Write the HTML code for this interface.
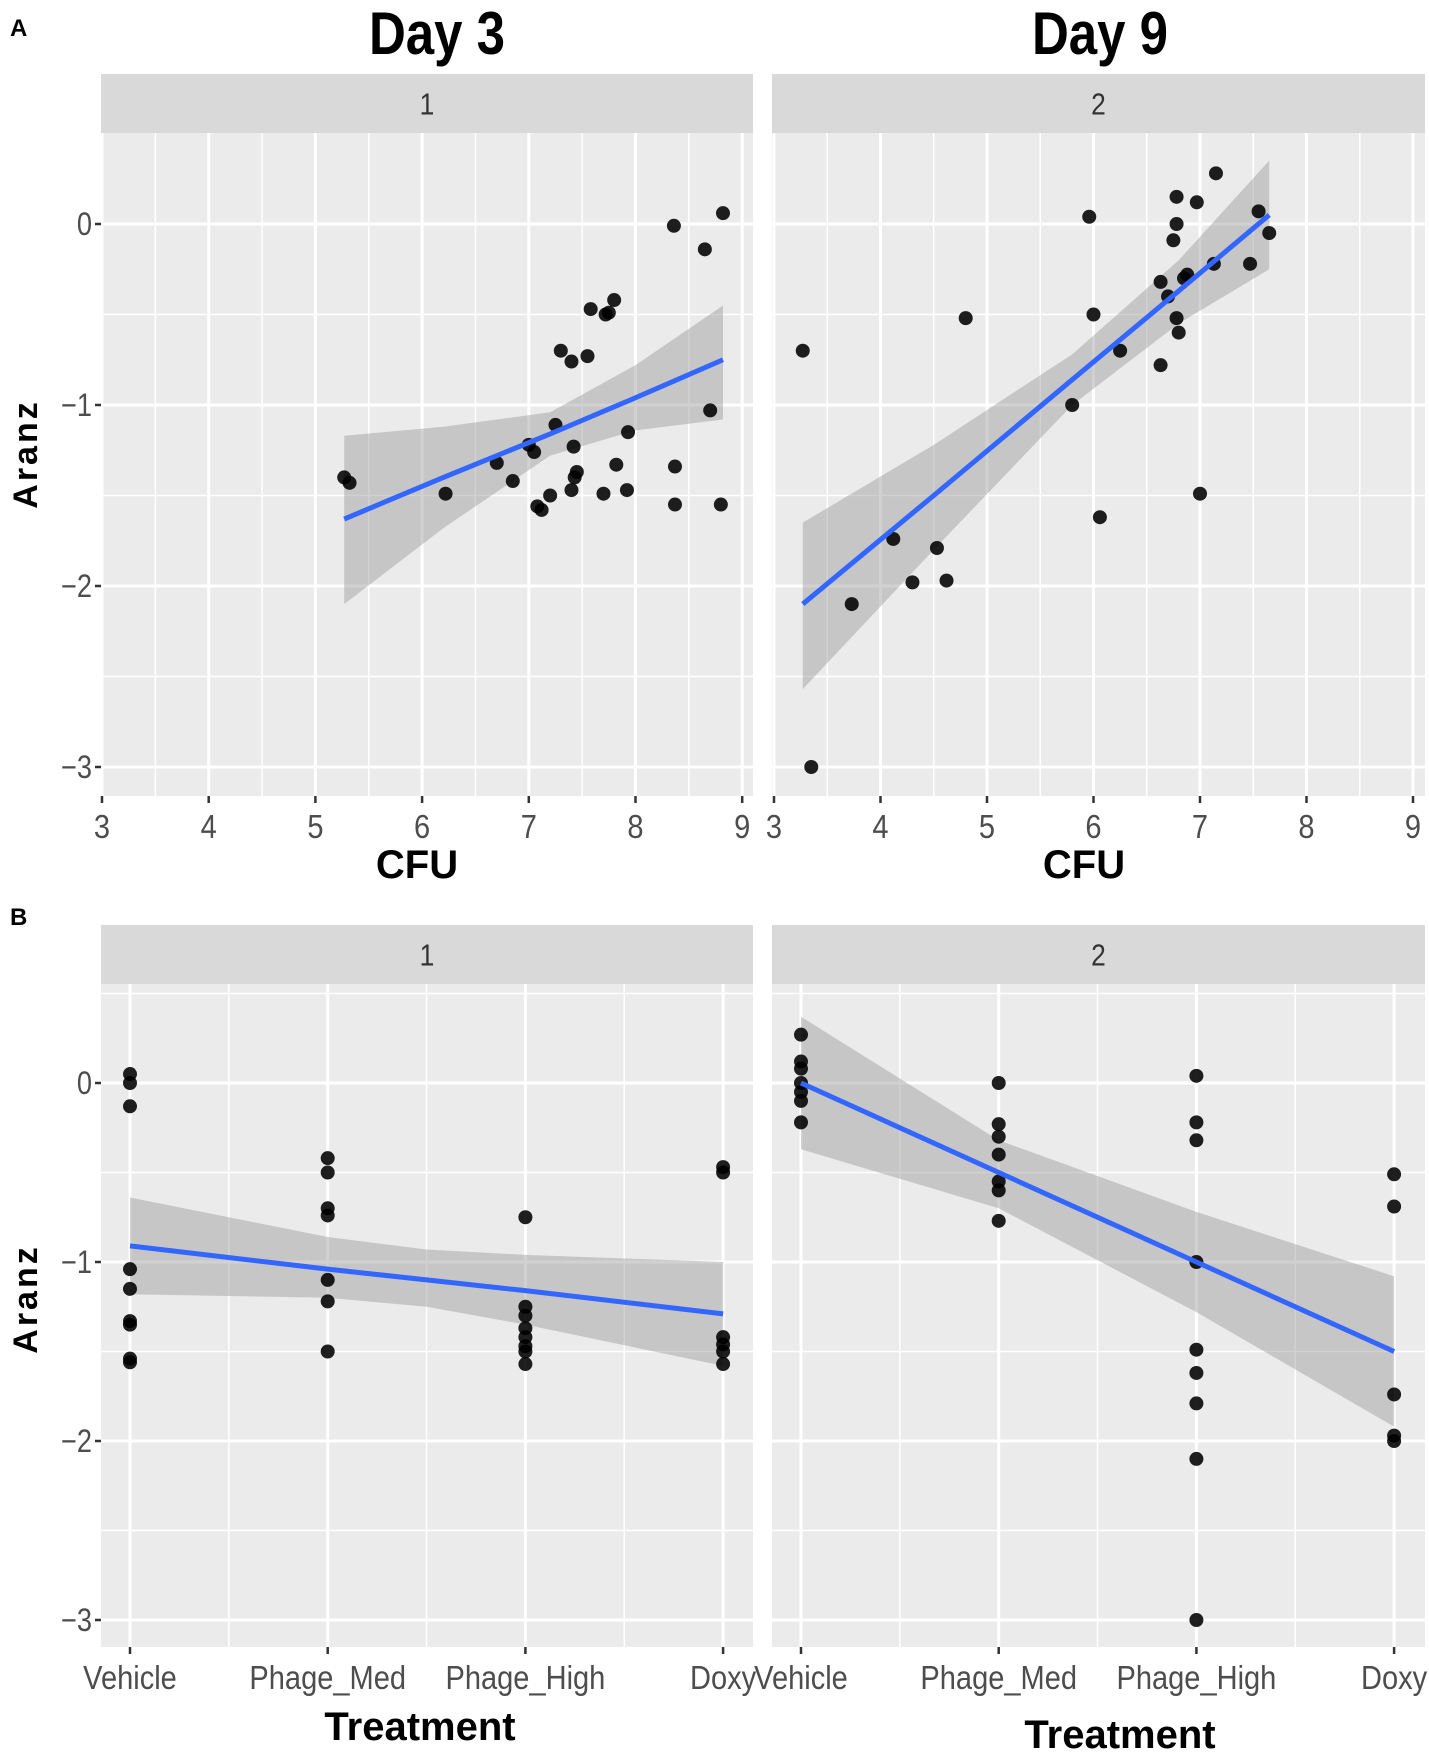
<!DOCTYPE html>
<html><head><meta charset="utf-8"><style>
html,body{margin:0;padding:0;background:#fff;}
svg{display:block;}
</style></head><body>
<svg id="fig" width="1429" height="1762" viewBox="0 0 1429 1762" xmlns="http://www.w3.org/2000/svg" font-family="'Liberation Sans', sans-serif"></svg>
<script>
// ---- Data ----
const day3X = [5.27,5.32,6.22,6.7,6.85,7.0,7.05,7.08,7.12,7.2,7.25,7.3,7.4,7.4,7.42,7.43,7.45,7.55,7.58,7.7,7.72,7.75,7.8,7.82,7.92,7.93,8.36,8.37,8.37,8.65,8.7,8.8,8.82];
const day3Y = [-1.4,-1.43,-1.49,-1.32,-1.42,-1.22,-1.26,-1.56,-1.58,-1.5,-1.11,-0.7,-1.47,-0.76,-1.23,-1.4,-1.37,-0.73,-0.47,-1.49,-0.5,-0.49,-0.42,-1.33,-1.47,-1.15,-0.01,-1.34,-1.55,-0.14,-1.03,-1.55,0.06];
const day9X = [3.27,3.35,3.73,4.12,4.3,4.53,4.62,4.8,5.8,5.96,6.0,6.06,6.25,6.63,6.63,6.7,6.75,6.78,6.78,6.78,6.8,6.85,6.88,6.97,7.0,7.13,7.15,7.47,7.55,7.65];
const day9Y = [-0.7,-3.0,-2.1,-1.74,-1.98,-1.79,-1.97,-0.52,-1.0,0.04,-0.5,-1.62,-0.7,-0.32,-0.78,-0.4,-0.09,0.0,0.15,-0.52,-0.6,-0.3,-0.28,0.12,-1.49,-0.22,0.28,-0.22,0.07,-0.05];
const day3FitX = [5.27,6.2,7.2,8.0,8.82];
const day3Fit = [-1.63,-1.40,-1.16,-0.96,-0.75];
const day3Up = [-1.17,-1.12,-1.04,-0.78,-0.45];
const day3Lo = [-2.10,-1.68,-1.28,-1.14,-1.08];
const day9FitX = [3.27,4.5,5.8,6.8,7.65];
const day9Fit = [-2.1,-1.5,-0.86,-0.37,0.05];
const day9Up = [-1.65,-1.22,-0.72,-0.2,0.35];
const day9Lo = [-2.57,-1.8,-1.0,-0.55,-0.25];

const treatments = ['Vehicle','Phage_Med','Phage_High','Doxy'];
const d1Cat = [0,0,0,0,0,0,0,0,0, 1,1,1,1,1,1,1, 2,2,2,2,2,2,2,2, 3,3,3,3,3,3];
const d1Val = [0.05,0.0,-0.13,-1.04,-1.15,-1.33,-1.35,-1.54,-1.56, -0.42,-0.5,-0.7,-0.74,-1.1,-1.22,-1.5, -0.75,-1.25,-1.3,-1.37,-1.42,-1.47,-1.5,-1.57, -0.47,-0.5,-1.42,-1.46,-1.5,-1.57];
const d2Cat = [0,0,0,0,0,0,0, 1,1,1,1,1,1,1, 2,2,2,2,2,2,2,2,2, 3,3,3,3,3];
const d2Val = [0.27,0.12,0.08,0.0,-0.05,-0.1,-0.22, 0.0,-0.23,-0.3,-0.4,-0.55,-0.6,-0.77, 0.04,-0.22,-0.32,-1.0,-1.49,-1.62,-1.79,-2.1,-3.0, -0.51,-0.69,-1.74,-1.97,-2.0];
const b1FitX = [0,1,1.5,2,3];
const b1Fit = [-0.91,-1.04,-1.10,-1.16,-1.29];
const b1Up = [-0.64,-0.86,-0.93,-0.96,-1.0];
const b1Lo = [-1.18,-1.2,-1.25,-1.35,-1.58];
const b2FitX = [0,1,2,3];
const b2Fit = [0,-0.5,-1.0,-1.5];
const b2Up = [0.37,-0.32,-0.72,-1.08];
const b2Lo = [-0.37,-0.7,-1.28,-1.92];

const yTicks = [0,-1,-2,-3];
const yTickLabels = ['0','\u22121','\u22122','\u22123'];
const cfuTicks = [3,4,5,6,7,8,9];

// ---- helpers ----
const svg = document.getElementById('fig');
const NS = 'http://www.w3.org/2000/svg';
function el(tag, attrs, parent){
  const e = document.createElementNS(NS, tag);
  for (const k in attrs) e.setAttribute(k, attrs[k]);
  (parent||svg).appendChild(e);
  return e;
}
function txt(s, attrs, parent){ const t = el('text', attrs, parent); t.textContent = s; return t; }
function ctxt(s, x, y, sx, attrs, parent){
  const a = Object.assign({x:0, y:0, transform:'translate('+x+','+y+') scale('+sx+',1)'}, attrs);
  return txt(s, a, parent);
}

function panel(cfg){
  const g = el('g', {});
  
  
  const X = cfg.xs, Y = cfg.ys;
  const s = el('rect', {x:cfg.x0, y:cfg.sy0, width:cfg.x1-cfg.x0, height:cfg.sy1-cfg.sy0, fill:'#d9d9d9'}, g);
  
  
  const st = ctxt(cfg.strip, (cfg.x0+cfg.x1)/2, (cfg.sy0+cfg.sy1)/2+11, 0.85, {'text-anchor':'middle', 'font-size':31, fill:'#333'}, g);
  
  
  const bg = el('rect', {x:cfg.x0, y:cfg.sy1, width:cfg.x1-cfg.x0, height:cfg.y1-cfg.sy1, fill:'#ebebeb'}, g);
  
  
  for (let v = 0.5; v >= -3.5; v -= 0.5){
    const py = Y(v); if (py < cfg.sy1+1 || py > cfg.y1-1) continue;
    const major = Math.abs(v - Math.round(v)) < 1e-6;
    el('line', {x1:cfg.x0, x2:cfg.x1, y1:py, y2:py, stroke:'#fff', 'stroke-width': major?3:1.5}, g);
  }
  cfg.vgrid.forEach(([v, major]) => {
    const px = X(v); if (px < cfg.x0 || px > cfg.x1) return;
    el('line', {x1:px, x2:px, y1:cfg.sy1, y2:cfg.y1, stroke:'#fff', 'stroke-width': major?3:1.5}, g);
  });
  let d = '';
  cfg.fx.forEach((v,i)=>{ d += (i?'L':'M') + X(v) + ' ' + Y(cfg.up[i]); });
  for (let i = cfg.fx.length-1; i >= 0; i--) d += 'L' + X(cfg.fx[i]) + ' ' + Y(cfg.lo[i]);
  const rb = el('path', {d: d+'Z', fill:'#999', 'fill-opacity':0.45}, g);
  
  
  cfg.px.forEach((v,i)=>{
    const c = el('circle', {cx:X(v), cy:Y(cfg.py[i]), r:7, fill:'#000', 'fill-opacity':0.88}, g);
    
    
  });
  const pts = cfg.fx.map((v,i)=> X(v)+','+Y(cfg.fit[i])).join(' ');
  const fl = el('polyline', {points:pts, fill:'none', stroke:'#3366ff', 'stroke-width':5}, g);
  
  
  if (cfg.showY){
    yTicks.forEach((v,i)=>{
      el('line', {x1:cfg.x0-6, x2:cfg.x0, y1:Y(v), y2:Y(v), stroke:'#333', 'stroke-width':2.5}, g);
      const t = ctxt(yTickLabels[i], cfg.x0-9, Y(v)+11, 0.85, {'text-anchor':'end', 'font-size':32, fill:'#4d4d4d'}, g);
      
      
    });
  }
  cfg.xt.forEach((v,i)=>{
    el('line', {x1:X(v), x2:X(v), y1:cfg.y1, y2:cfg.y1+7, stroke:'#333', 'stroke-width':2.5}, g);
    const t = ctxt(cfg.xl[i], X(v), cfg.y1+42, 0.88, {'text-anchor':'middle', 'font-size':33, fill:'#4d4d4d'}, g);
    
    
  });
}

const aY = v => 224 - v*181;
const cfuGrid = [];
for (let v = 2.5; v <= 9.5; v += 0.5) cfuGrid.push([v, Math.abs(v-Math.round(v))<1e-6]);
panel({name:'panel-a-day3', x0:101, x1:753, sy0:74, sy1:133, y1:796, strip:'1', showY:true,
  xs: v => 102 + (v-3)*106.7, ys: aY, vgrid: cfuGrid,
  px: day3X, py: day3Y, fx: day3FitX, fit: day3Fit, up: day3Up, lo: day3Lo,
  xt: cfuTicks, xl: cfuTicks.map(String)});
panel({name:'panel-a-day9', x0:772, x1:1425, sy0:74, sy1:133, y1:796, strip:'2', showY:false,
  xs: v => 774 + (v-3)*106.5, ys: aY, vgrid: cfuGrid,
  px: day9X, py: day9Y, fx: day9FitX, fit: day9Fit, up: day9Up, lo: day9Lo,
  xt: cfuTicks, xl: cfuTicks.map(String)});

const bY = v => 1083 - v*179;
const catGrid = [[0,true],[0.5,false],[1,true],[1.5,false],[2,true],[2.5,false],[3,true]];
panel({name:'panel-b-day3', x0:101, x1:753, sy0:925, sy1:984, y1:1647, strip:'1', showY:true,
  xs: v => 130 + v*197.7, ys: bY, vgrid: catGrid,
  px: d1Cat, py: d1Val, fx: b1FitX, fit: b1Fit, up: b1Up, lo: b1Lo,
  xt: [0,1,2,3], xl: treatments});
panel({name:'panel-b-day9', x0:772, x1:1425, sy0:925, sy1:984, y1:1647, strip:'2', showY:false,
  xs: v => 801 + v*197.7, ys: bY, vgrid: catGrid,
  px: d2Cat, py: d2Val, fx: b2FitX, fit: b2Fit, up: b2Up, lo: b2Lo,
  xt: [0,1,2,3], xl: treatments});

function label(s, name, attrs){ const t = txt(s, attrs);   return t; }
label('A', 'panel-letter-a', {x:10, y:36, 'font-size':24, 'font-weight':'bold', fill:'#000'});
label('B', 'panel-letter-b', {x:10, y:925, 'font-size':24, 'font-weight':'bold', fill:'#000'});
label('Day 3', 'title-day3', {x:0, y:0, 'text-anchor':'middle', 'font-size':60, 'font-weight':'bold', fill:'#000', transform:'translate(437,54) scale(0.85,1)'});
label('Day 9', 'title-day9', {x:0, y:0, 'text-anchor':'middle', 'font-size':60, 'font-weight':'bold', fill:'#000', transform:'translate(1100,54) scale(0.85,1)'});
label('CFU', 'x-axis-title-day3', {x:417, y:878, 'text-anchor':'middle', 'font-size':40, 'font-weight':'bold', fill:'#000'});
label('CFU', 'x-axis-title-day9', {x:1084, y:878, 'text-anchor':'middle', 'font-size':40, 'font-weight':'bold', fill:'#000'});
label('Treatment', 'x-axis-title-b-day3', {x:420, y:1740, 'text-anchor':'middle', 'font-size':40, 'font-weight':'bold', fill:'#000'});
label('Treatment', 'x-axis-title-b-day9', {x:1120, y:1748, 'text-anchor':'middle', 'font-size':40, 'font-weight':'bold', fill:'#000'});
label('Aranz', 'y-axis-title-a', {x:0, y:0, 'text-anchor':'middle', 'font-size':34, 'font-weight':'bold', 'letter-spacing':3, fill:'#000', transform:'translate(37,454) rotate(-90)'});
label('Aranz', 'y-axis-title-b', {x:0, y:0, 'text-anchor':'middle', 'font-size':34, 'font-weight':'bold', 'letter-spacing':3, fill:'#000', transform:'translate(37,1299) rotate(-90)'});
</script>
</body></html>
